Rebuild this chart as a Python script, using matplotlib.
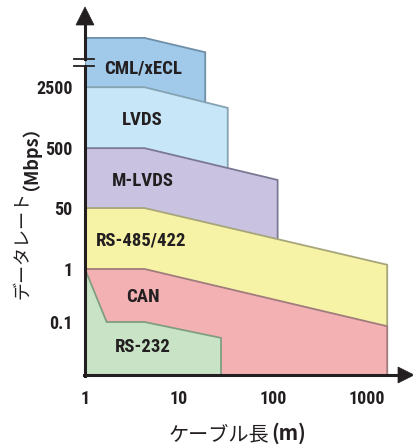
import matplotlib
matplotlib.use("Agg")
import matplotlib.pyplot as plt
from matplotlib.patches import Polygon
from matplotlib import font_manager

# ---- data ----
rate_labels = ["0.1", "1", "50", "500", "2500"]
rate_tiers = [1.0, 2.0, 3.15, 4.28, 5.43]   # ordinal tier of each rate class

length_ticks = [1, 10, 100, 1000]
length_labels = ["1", "10", "100", "1000"]

standards = ["CML/xECL", "LVDS", "M-LVDS", "RS-485/422", "CAN", "RS-232"]

cml_len = [1, 4.3, 19]
cml_tier = [6.36, 6.36, 6.09]
lvds_len = [1, 4.3, 33]
lvds_tier = [5.43, 5.43, 5.04]
mlvds_len = [1, 4.3, 112]
mlvds_tier = [4.28, 4.28, 3.68]
rs485_len = [1, 4.3, 1640]
rs485_tier = [3.15, 3.15, 2.08]
can_len = [1, 4.3, 1640]
can_tier = [2.0, 2.0, 0.92]
rs232_len = [1, 1.7, 4.3, 28]
rs232_tier = [2.0, 1.0, 1.0, 0.70]

band_len = [cml_len, lvds_len, mlvds_len, rs485_len, can_len, rs232_len]
band_tier = [cml_tier, lvds_tier, mlvds_tier, rs485_tier, can_tier, rs232_tier]

# ---- style ----
fills = ["#A0C9EA", "#C7E7F9", "#C9C3E1", "#F7F3A6", "#F4B1B3", "#C9E3C6"]
edges = ["#6F8FA8", "#86A3B2", "#7B7893", "#A7A57A", "#A07C7E", "#7F9E84"]
label_pos = [(4.1, 5.79), (4.1, 4.81), (4.1, 3.66), (4.0, 2.53), (4.1, 1.47), (4.1, 0.53)]

names = {f.name for f in font_manager.fontManager.ttflist}
cond = next((n for n in ("Roboto Condensed", "Archivo Narrow", "PT Sans Narrow",
                         "Liberation Sans Narrow") if n in names), "Liberation Sans")
jp = ["Noto Sans CJK JP", "DejaVu Sans"]
k = "#231F20"

W, H = 414, 448
fig = plt.figure(figsize=(W / 100, H / 100), dpi=100)
ax_l, ax_b, ax_r, ax_t = 85, 375, 414, 8          # axes box in pixels
ax = fig.add_axes([ax_l / W, 1 - ax_b / H, (ax_r - ax_l) / W, (ax_b - ax_t) / H])
ax.set_xscale("log")
ax.set_xlim(1, 10 ** 3.5)
ax.set_ylim(0, (ax_b - ax_t) / 53.0)
for s in ax.spines.values():
    s.set_visible(False)

for lens, tiers, fc, ec in zip(band_len, band_tier, fills, edges):
    verts = [(lens[0], 0)] + list(zip(lens, tiers)) + [(lens[-1], 0)]
    ax.add_patch(Polygon(verts, closed=True, facecolor=fc, edgecolor=ec,
                         linewidth=1.3, joinstyle="miter"))

for name, (x, y) in zip(standards, label_pos):
    ax.text(x, y, name, ha="center", va="center", fontsize=13.5,
            fontweight="bold", family=cond, color=k)

ax.set_xticks(length_ticks, length_labels)
ax.set_yticks(rate_tiers, rate_labels)
ax.minorticks_off()
ax.tick_params(length=0)
ax.tick_params(axis="y", pad=9)
ax.tick_params(axis="x", pad=11)
for lab in ax.get_xticklabels() + ax.get_yticklabels():
    lab.set_fontfamily(cond)
    lab.set_fontweight("bold")
    lab.set_fontsize(13)
    lab.set_color(k)


# axis lines with arrowheads, drawn in pixel space
def px(x, y):
    return (x / W, 1 - y / H)


lw = 2.2
fig.add_artist(plt.Line2D(*zip(px(85, 376), px(85, 65.5)), color=k, lw=lw))
fig.add_artist(plt.Line2D(*zip(px(85, 58.5), px(85, 22)), color=k, lw=lw))
fig.add_artist(plt.Line2D(*zip(px(84, 375), px(402, 375)), color=k, lw=lw))
fig.add_artist(Polygon([px(85, 7), px(76, 25), px(94, 25)], closed=True,
                       facecolor=k, edgecolor=k, lw=0.5, transform=fig.transFigure))
fig.add_artist(Polygon([px(414, 375), px(398, 367), px(398, 383)], closed=True,
                       facecolor=k, edgecolor=k, lw=0.5, transform=fig.transFigure))
# axis break marks
for yb in (59, 65.5):
    fig.add_artist(plt.Line2D(*zip(px(74, yb), px(94, yb)), color=k, lw=1.3))

# axis titles: Japanese in regular weight, unit in bold
fig.canvas.draw()
r = fig.canvas.get_renderer()

t1 = fig.text(0, 0, "ケーブル長", fontsize=14.5, family=jp, color=k, va="baseline")
t2 = fig.text(0, 0, "(m)", fontsize=14.5, family=jp, fontweight="bold", color=k, va="baseline")
w1 = t1.get_window_extent(r).width
w2 = t2.get_window_extent(r).width
x0 = 236 - (w1 + w2) / 2
t1.set_position((x0 / W, 1 - 440 / H))
t2.set_position(((x0 + w1 + 2) / W, 1 - 440 / H))

u1 = fig.text(0, 0, "データレート", fontsize=13, family=jp, color=k, rotation=90,
              ha="left", va="bottom", rotation_mode="anchor")
u2 = fig.text(0, 0, "（Mbps）", fontsize=13, family=jp, fontweight="bold", color=k,
              rotation=90, ha="left", va="bottom", rotation_mode="anchor")
h1 = u1.get_window_extent(r).height
h2 = u2.get_window_extent(r).height
y0 = 203 + (h1 + h2) / 2
u1.set_position((31 / W, 1 - y0 / H))
u2.set_position((31 / W, 1 - (y0 - h1) / H))

fig.savefig("out.png", dpi=100, facecolor="white")
